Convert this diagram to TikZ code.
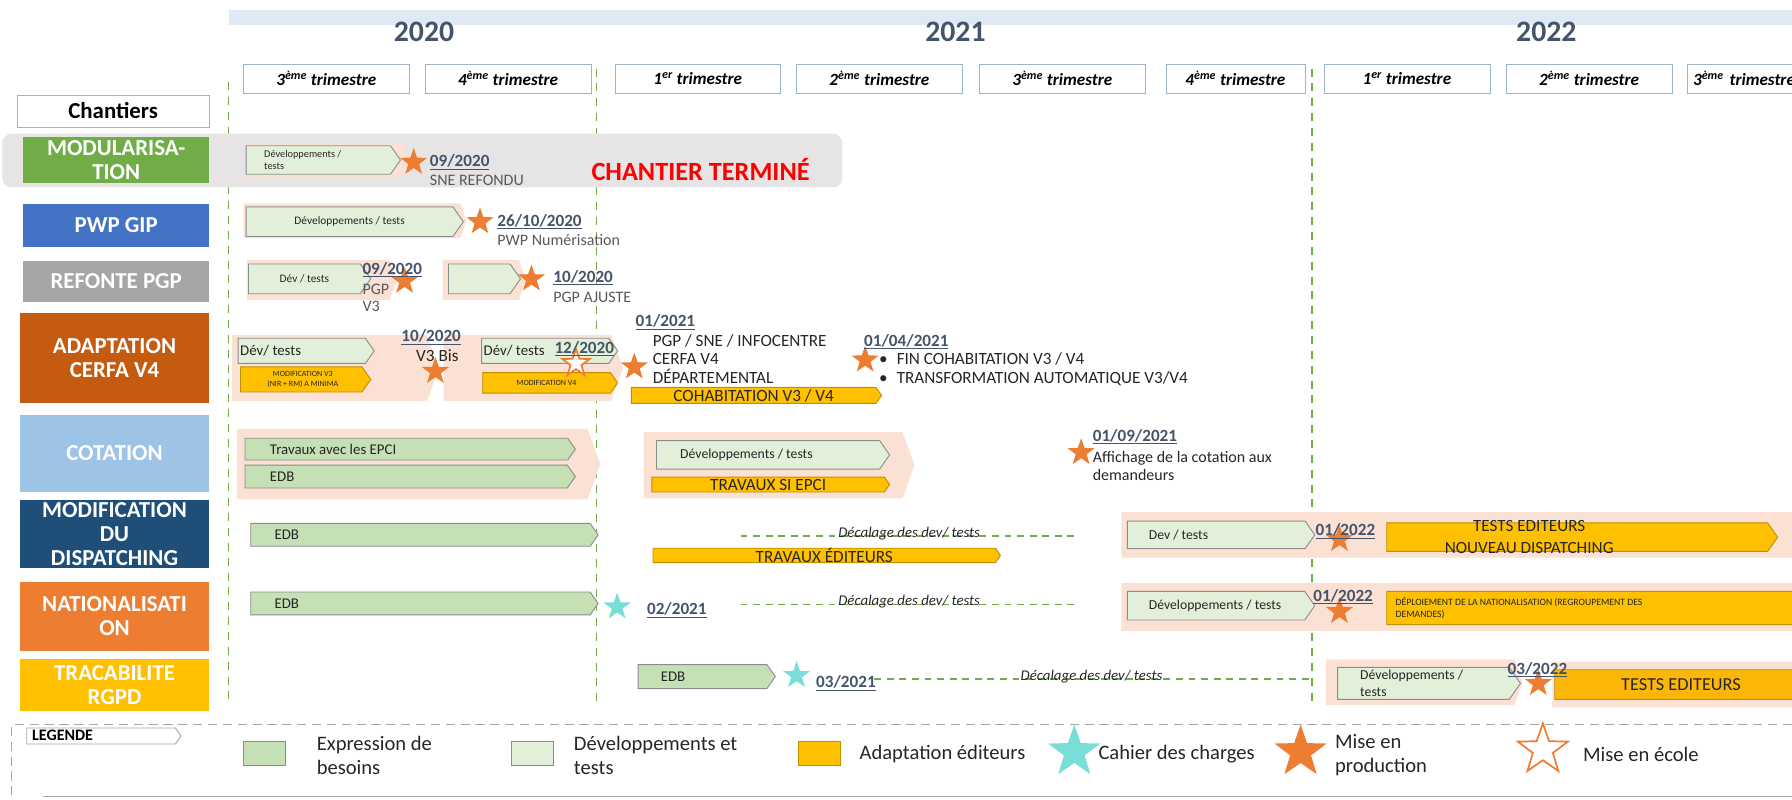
\documentclass[tikz,border=0pt]{standalone}
\usepackage{fontspec}
\setmainfont{Carlito}
\usepackage{tikz}
\usetikzlibrary{shapes.geometric,shapes.symbols}

\definecolor{peach}{RGB}{251,224,212}
\definecolor{devgreen}{RGB}{226,240,217}
\definecolor{edbgreen}{RGB}{197,224,180}
\definecolor{gold}{RGB}{255,192,0}
\definecolor{golddark}{RGB}{191,144,0}
\definecolor{barline}{RGB}{140,140,140}
\definecolor{starorange}{RGB}{237,125,49}
\definecolor{starcyan}{RGB}{122,222,216}
\definecolor{slate}{RGB}{68,84,106}
\definecolor{notegray}{RGB}{89,89,89}
\definecolor{textdark}{RGB}{38,38,38}
\definecolor{linegreen}{RGB}{112,173,71}
\definecolor{trimline}{RGB}{157,179,204}
\definecolor{bandblue}{RGB}{222,233,245}
\definecolor{donegray}{RGB}{231,228,230}
\definecolor{legline}{RGB}{166,166,166}
\definecolor{modgreen}{RGB}{112,173,71}
\definecolor{pwpblue}{RGB}{68,114,196}
\definecolor{pgpgray}{RGB}{165,165,165}
\definecolor{cerfaorange}{RGB}{197,90,17}
\definecolor{cotblue}{RGB}{157,195,230}
\definecolor{dispblue}{RGB}{31,78,121}
\definecolor{natorange}{RGB}{237,125,49}
\definecolor{rgpdgold}{RGB}{255,192,0}

\begin{document}
\begin{tikzpicture}[x=1pt, y=-1pt]
                  \tikzstyle{chantier}=[anchor=north west, text=white, align=center, inner sep=0pt, font=\bfseries\fontsize{20}{21}\selectfont]
                  \tikzstyle{trimbox}=[draw=trimline, fill=white, minimum width=145pt, minimum height=26pt, inner sep=0pt, font=\bfseries\itshape\fontsize{15}{16}\selectfont]
                  \tikzstyle{year}=[text=slate, font=\bfseries\fontsize{26}{28}\selectfont]
                  \tikzstyle{bg}=[signal, signal to=east, signal pointer angle=140, fill=peach, anchor=west, inner sep=0pt]
                  \tikzstyle{bar}=[signal, signal to=east, signal pointer angle=110, anchor=west, inner sep=0pt, draw=barline, line width=0.8pt, text=textdark]
                  \tikzstyle{dev}=[bar, fill=devgreen]
                  \tikzstyle{edb}=[bar, fill=edbgreen]
                  \tikzstyle{editeur}=[bar, fill=gold, draw=golddark]
                  \tikzstyle{prod}=[star, star points=5, star point ratio=2.5, minimum size=25pt, inner sep=0pt, fill=starorange]
                  \tikzstyle{cdc}=[prod, fill=starcyan]
                  \tikzstyle{ecole}=[prod, fill=white, draw=starorange, line width=1.5pt]
                  \tikzstyle{date}=[anchor=west, inner sep=1pt, text=slate, font=\bfseries\fontsize{15}{16}\selectfont]
                  \tikzstyle{note}=[anchor=west, inner sep=1pt, text=notegray, align=left, font=\fontsize{14}{16}\selectfont]
                  \tikzstyle{txt}=[anchor=west, inner sep=1pt, text=textdark, align=left, font=\fontsize{15}{16}\selectfont]
                  \tikzstyle{lbl}=[anchor=west, inner sep=0pt, text=textdark, align=left]
                  \tikzstyle{decalage}=[draw=linegreen, dash pattern=on 6pt off 5pt, line width=1.2pt]
                  \tikzstyle{decaltxt}=[above, inner sep=1pt, yshift=-5pt, text=textdark, font=\itshape\fontsize{13}{14}\selectfont]
                  \tikzstyle{jalon}=[draw=linegreen, dash pattern=on 7pt off 6pt, line width=1pt]
                  \tikzstyle{leg}=[anchor=west, inner sep=0pt, align=left, text=textdark, font=\fontsize{18}{21}\selectfont]

                  \useasboundingbox (0,0) rectangle (1568,700);

                  \fill[bandblue] (200,9) rectangle (1568,22);
                  \node[year] (y2020) at (371,28) {2020};
                  \node[year] (y2021) at (836,28) {2021};
                  \node[year] (y2022) at (1353,28) {2022};

                  \node[trimbox] (q1) at (285.5,69) {3\textsuperscript{ème} trimestre};
                  \node[trimbox] (q2) at (444.5,69) {4\textsuperscript{ème} trimestre};
                  \node[trimbox] (q3) at (610.5,69) {1\textsuperscript{er} trimestre};
                  \node[trimbox] (q4) at (769.5,69) {2\textsuperscript{ème} trimestre};
                  \node[trimbox] (q5) at (929.5,69) {3\textsuperscript{ème} trimestre};
                  \node[trimbox, minimum width=122pt] (q6) at (1081,69) {4\textsuperscript{ème} trimestre};
                  \node[trimbox] (q7) at (1231,69) {1\textsuperscript{er} trimestre};
                  \node[trimbox] (q8) at (1390.5,69) {2\textsuperscript{ème} trimestre};
                  \node[trimbox, text width=134pt, align=left] (q9) at (1548.5,69) {3\textsuperscript{ème} trimestre};

                  \draw[jalon] (200,72) -- (200,618);
                  \draw[jalon] (522,60) -- (522,618);
                  \draw[jalon] (1148,60) -- (1148,618);

                  \node[draw=trimline, minimum width=168pt, minimum height=28pt, font=\bfseries\fontsize{20}{22}\selectfont] (chantiers) at (99,97) {Chantiers};

                  \fill[donegray, rounded corners=8pt] (2,117) rectangle (737,164);
                  \node[chantier, fill=modgreen, minimum width=163pt, minimum height=40pt] (mod) at (20,120) {MODULARISA-\\TION};
                  \node[chantier, fill=pwpblue, minimum width=163pt, minimum height=38pt] (pwp) at (20,178) {PWP GIP};
                  \node[chantier, fill=pgpgray, minimum width=163pt, minimum height=36pt] (pgp) at (20,228) {REFONTE PGP};
                  \node[chantier, fill=cerfaorange, minimum width=166pt, minimum height=78pt] (cerfa) at (17,274) {ADAPTATION\\CERFA V4};
                  \node[chantier, fill=cotblue, minimum width=166pt, minimum height=67pt] (cot) at (17,363) {COTATION};
                  \node[chantier, fill=dispblue, minimum width=166pt, minimum height=60pt] (disp) at (17,437) {MODIFICATION\\DU\\DISPATCHING};
                  \node[chantier, fill=natorange, minimum width=166pt, minimum height=60pt] (nat) at (17,509) {NATIONALISATI\\ON};
                  \node[chantier, fill=rgpdgold, minimum width=166pt, minimum height=46pt] (rgpd) at (17,576) {TRACABILITE\\RGPD};

                  \node[bg, minimum width=142pt, minimum height=30pt] (modbg) at (215,140) {};
                  \node[dev, minimum width=135pt, minimum height=25pt] (moddev) at (215,140) {};
                  \node[lbl, font=\fontsize{9}{11}\selectfont] (moddevt) at ([xshift=16pt]moddev.west) {Développements /\\tests};
                  \node[prod] (modstar) at (362,142) {};
                  \node[date] (moddate) at (375,142) {\underline{09/2020}};
                  \node[note] (modnote) at (375,158) {SNE REFONDU};
                  \node[text=red, font=\bfseries\fontsize{23}{24}\selectfont] (modfin) at (613,148) {CHANTIER TERMINÉ};

                  \node[bg, minimum width=195pt, minimum height=30pt] (pwpbg) at (213,193) {};
                  \node[dev, minimum width=190pt, minimum height=26pt, font=\fontsize{10}{12}\selectfont] (pwpdev) at (215,194) {Développements / tests};
                  \node[prod] (pwpstar) at (420,194) {};
                  \node[date] (pwpdate) at (434,194) {\underline{26/10/2020}};
                  \node[note] (pwpnote) at (434,210) {PWP Numérisation};

                  \node[bg, minimum width=131pt, minimum height=35pt] (pgpbg1) at (216,245) {};
                  \node[bg, minimum width=73pt, minimum height=35pt] (pgpbg2) at (387,245) {};
                  \node[dev, minimum width=107pt, minimum height=26pt, font=\fontsize{10}{12}\selectfont] (pgpdev1) at (217,244) {Dév / tests};
                  \node[dev, minimum width=63pt, minimum height=26pt] (pgpdev2) at (392,244) {};
                  \node[prod] (pgpstar1) at (354,246) {};
                  \node[prod] (pgpstar2) at (465,244) {};
                  \node[date] (pgpdate1) at (316,236) {\underline{09/2020}};
                  \node[note, font=\fontsize{14}{15}\selectfont] (pgpnote1) at (316,261) {PGP\\V3};
                  \node[date] (pgpdate2) at (483,243) {\underline{10/2020}};
                  \node[note] (pgpnote2) at (483,260) {PGP AJUSTE};

                  \node[bg, minimum width=181pt, minimum height=58pt] (cerfabg1) at (203,322) {};
                  \node[bg, minimum width=157pt, minimum height=58pt] (cerfabg2) at (388,322) {};
                  \node[dev, minimum width=119pt, minimum height=22pt] (cerfadev1) at (208,307) {};
                  \node[lbl, font=\fontsize{13}{14}\selectfont] (cerfadevt1) at ([xshift=2pt]cerfadev1.west) {Dév/ tests};
                  \node[editeur, minimum width=114pt, minimum height=22pt] (cerfaedit1) at (210,332) {};
                  \node[align=center, inner sep=0pt, text=textdark, font=\fontsize{7}{9}\selectfont] (cerfaeditt1) at (265,332) {MODIFICATION V3\\(NIR + RM) A MINIMA};
                  \node[date] (cerfadate1) at (350,295) {\underline{10/2020}};
                  \node[txt] (cerfanote1) at (363,311) {V3 Bis};
                  \node[prod] (cerfastar1) at (381,325) {};
                  \node[dev, minimum width=119pt, minimum height=22pt] (cerfadev2) at (421,307) {};
                  \node[lbl, font=\fontsize{13}{14}\selectfont] (cerfadevt2) at ([xshift=2pt]cerfadev2.west) {Dév/ tests};
                  \node[editeur, minimum width=118pt, minimum height=18pt, font=\fontsize{7}{8}\selectfont] (cerfaedit2) at (422,335) {MODIFICATION V4};
                  \node[ecole] (cerfaecole) at (504,318) {};
                  \node[date] (cerfadate2) at (484,305) {\underline{12/2020}};
                  \node[editeur, minimum width=219pt, minimum height=14pt, font=\fontsize{15}{15}\selectfont] (cerfaedit3) at (552,346) {COHABITATION V3 / V4};
                  \node[prod] (cerfastar2) at (555,321) {};
                  \node[date] (cerfadate3) at (555,282) {\underline{01/2021}};
                  \node[txt] (cerfanote2) at (570,314) {PGP / SNE / INFOCENTRE\\CERFA V4\\DÉPARTEMENTAL};
                  \node[prod] (cerfastar3) at (757,315) {};
                  \node[date] (cerfadate4) at (755,299) {\underline{01/04/2021}};
                  \node[txt] (cerfanote3) at (768,323) {\textbullet\hspace{8pt}FIN COHABITATION V3 / V4\\\textbullet\hspace{8pt}TRANSFORMATION AUTOMATIQUE V3/V4};

                  \node[bg, minimum width=318pt, minimum height=62pt] (cotbg1) at (207,406) {};
                  \node[edb, minimum width=289pt, minimum height=19pt] (cotedb1) at (214,393) {};
                  \node[lbl, font=\fontsize{13}{14}\selectfont] (cotedbt1) at ([xshift=22pt]cotedb1.west) {Travaux avec les EPCI};
                  \node[edb, minimum width=289pt, minimum height=20pt] (cotedb2) at (214,417) {};
                  \node[lbl, font=\fontsize{13}{14}\selectfont] (cotedbt2) at ([xshift=22pt]cotedb2.west) {EDB};
                  \node[bg, minimum width=237pt, minimum height=58pt] (cotbg2) at (563,407) {};
                  \node[dev, minimum width=204pt, minimum height=25pt] (cotdev) at (574,398) {};
                  \node[lbl, font=\fontsize{12}{14}\selectfont] (cotdevt) at ([xshift=21pt]cotdev.west) {Développements / tests};
                  \node[editeur, minimum width=208pt, minimum height=13pt, font=\fontsize{15}{15}\selectfont] (cotedit) at (570,424) {TRAVAUX SI EPCI};
                  \node[prod] (cotstar) at (946,396) {};
                  \node[date] (cotdate) at (955,382) {\underline{01/09/2021}};
                  \node[txt, font=\fontsize{14}{16}\selectfont] (cotnote) at (955,408) {Affichage de la cotation aux\\demandeurs};

                  \node[edb, minimum width=304pt, minimum height=20pt] (dispedb) at (219,468) {};
                  \node[lbl, font=\fontsize{13}{14}\selectfont] (dispedbt) at ([xshift=21pt]dispedb.west) {EDB};
                  \draw[decalage] (648,469) -- node[decaltxt] (dispdecal) {Décalage des dev/ tests} (943,469);
                  \node[editeur, minimum width=304pt, minimum height=12pt, font=\fontsize{15}{15}\selectfont] (dispedit1) at (571,486) {TRAVAUX ÉDITEURS};
                  \node[bg, minimum width=600pt, minimum height=40pt] (dispbg) at (981,468) {};
                  \node[dev, minimum width=164pt, minimum height=24pt] (dispdev) at (986,468) {};
                  \node[lbl, font=\fontsize{12}{14}\selectfont] (dispdevt) at ([xshift=19pt]dispdev.west) {Dev / tests};
                  \node[prod] (dispstar) at (1172,472) {};
                  \node[date] (dispdate) at (1150,465) {\underline{01/2022}};
                  \node[editeur, minimum width=342pt, minimum height=25pt] (dispedit2) at (1213,470) {};
                  \node[align=center, inner sep=0pt, text=textdark, font=\fontsize{15}{19}\selectfont] (dispeditt2) at (1338,470) {TESTS EDITEURS\\NOUVEAU DISPATCHING};

                  \node[edb, minimum width=304pt, minimum height=20pt] (natedb) at (219,528) {};
                  \node[lbl, font=\fontsize{13}{14}\selectfont] (natedbt) at ([xshift=21pt]natedb.west) {EDB};
                  \node[cdc] (natcdc) at (540,531) {};
                  \node[date] (natdate1) at (565,534) {\underline{02/2021}};
                  \draw[decalage] (648,529) -- node[decaltxt] (natdecal) {Décalage des dev/ tests} (943,529);
                  \node[bg, minimum width=600pt, minimum height=42pt] (natbg) at (981,531) {};
                  \node[dev, minimum width=164pt, minimum height=25pt] (natdev) at (986,530) {};
                  \node[lbl, font=\fontsize{12}{14}\selectfont] (natdevt) at ([xshift=19pt]natdev.west) {Développements / tests};
                  \node[prod] (natstar) at (1172,535) {};
                  \node[date] (natdate2) at (1148,522) {\underline{01/2022}};
                  \node[editeur, minimum width=370pt, minimum height=29pt] (natedit) at (1213,532) {};
                  \node[lbl, font=\fontsize{8.5}{11}\selectfont] (natedt) at ([xshift=8pt]natedit.west) {DÉPLOIEMENT DE LA NATIONALISATION (REGROUPEMENT DES\\DEMANDES)};

                  \node[edb, minimum width=120pt, minimum height=21pt] (rgpdedb) at (558,592) {};
                  \node[lbl, font=\fontsize{13}{14}\selectfont] (rgpdedbt) at ([xshift=20pt]rgpdedb.west) {EDB};
                  \node[cdc] (rgpdcdc) at (697,591) {};
                  \node[date] (rgpddate1) at (713,598) {\underline{03/2021}};
                  \draw[decalage] (765,594) -- node[decaltxt] (rgpddecal) {Décalage des dev/ tests} (1145,594);
                  \node[bg, minimum width=172pt, minimum height=40pt] (rgpdbg1) at (1160,597) {};
                  \node[bg, minimum width=220pt, minimum height=40pt] (rgpdbg2) at (1358,599) {};
                  \node[dev, minimum width=160pt, minimum height=28pt] (rgpddev) at (1170,598) {};
                  \node[lbl, font=\fontsize{12}{15}\selectfont] (rgpddevt) at ([xshift=20pt]rgpddev.west) {Développements /\\tests};
                  \node[editeur, fill=gold!85!starorange, minimum width=230pt, minimum height=26pt, font=\fontsize{16}{16}\selectfont] (rgpdedit) at (1360,599) {TESTS EDITEURS};
                  \node[prod] (rgpdstar) at (1346,598) {};
                  \node[date] (rgpddate2) at (1318,586) {\underline{03/2022}};

                  \draw[legline, line width=1.5pt, dash pattern=on 8pt off 5pt] (1568,634) -- (10,634) -- (10,700);
                  \draw[legline, line width=1pt] (38,697) -- (1568,697);
                  \node[bar, fill=white, draw=legline, minimum width=135pt, minimum height=14pt] (legende) at (23,644) {};
                  \node[lbl, text=black, font=\bfseries\fontsize{14}{14}\selectfont] (legendet) at (28,643) {LEGENDE};
                  \node[draw=barline, fill=edbgreen, minimum width=37pt, minimum height=21pt, inner sep=0pt] (legedb) at (231.5,659) {};
                  \node[leg] (legedbt) at (277,661) {Expression de\\besoins};
                  \node[draw=barline, fill=devgreen, minimum width=37pt, minimum height=21pt, inner sep=0pt] (legdev) at (466,659) {};
                  \node[leg] (legdevt) at (502,661) {Développements et\\tests};
                  \node[draw=golddark, fill=gold, minimum width=37pt, minimum height=21pt, inner sep=0pt] (legedit) at (717,659) {};
                  \node[leg] (legeditt) at (752,660) {Adaptation éditeurs};
                  \node[cdc, minimum size=48pt] (legcdc) at (940,658) {};
                  \node[leg] (legcdct) at (961,660) {Cahier des charges};
                  \node[prod, minimum size=48pt] (legprod) at (1138,658) {};
                  \node[leg] (legprodt) at (1168,661) {Mise en\\production};
                  \node[ecole, minimum size=46pt] (legecole) at (1350,656) {};
                  \node[leg] (legecolet) at (1385,660) {Mise en école};
                \end{tikzpicture}
\end{document}
